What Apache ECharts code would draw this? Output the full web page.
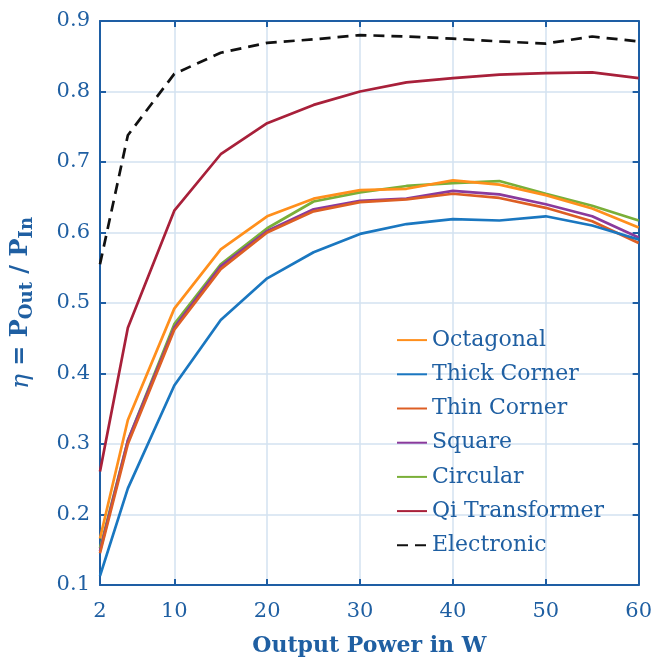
<!DOCTYPE html>
<html>
<head>
<meta charset="utf-8">
<script src="https://cdn.jsdelivr.net/npm/echarts@6/dist/echarts.min.js"></script>
<style>
  html, body { margin: 0; padding: 0; background: #ffffff; }
  #chart { width: 655px; height: 662px; }
</style>
</head>
<body>
<div id="chart"></div>
<script>
// Output power (W) at each measurement point
const power = [2, 5, 10, 15, 20, 25, 30, 35, 40, 45, 50, 55, 60];

// Efficiency of each coil design
const octagonal   = [0.166, 0.334, 0.492, 0.576, 0.623, 0.648, 0.660, 0.662, 0.674, 0.668, 0.653, 0.634, 0.607];
const thickCorner = [0.113, 0.237, 0.383, 0.476, 0.535, 0.572, 0.598, 0.612, 0.619, 0.617, 0.623, 0.610, 0.590];
const thinCorner  = [0.145, 0.300, 0.462, 0.548, 0.600, 0.630, 0.643, 0.647, 0.655, 0.649, 0.635, 0.616, 0.585];
const square      = [0.148, 0.305, 0.465, 0.552, 0.602, 0.633, 0.645, 0.648, 0.659, 0.654, 0.640, 0.623, 0.593];
const circular    = [0.152, 0.305, 0.470, 0.555, 0.606, 0.644, 0.657, 0.666, 0.670, 0.673, 0.655, 0.638, 0.617];
const qiTransformer = [0.261, 0.465, 0.631, 0.711, 0.755, 0.781, 0.800, 0.813, 0.819, 0.824, 0.826, 0.827, 0.819];
const electronic  = [0.555, 0.738, 0.825, 0.855, 0.869, 0.874, 0.880, 0.878, 0.875, 0.871, 0.868, 0.878, 0.871];

// Axis tick labels
const xTicks = [2, 10, 20, 30, 40, 50, 60];
const yTicks = [0.1, 0.2, 0.3, 0.4, 0.5, 0.6, 0.7, 0.8, 0.9];

const seriesDefs = [
  { name: 'Octagonal',      data: octagonal,     color: '#FF8F1C' },
  { name: 'Thick Corner',   data: thickCorner,   color: '#1A77C0' },
  { name: 'Thin Corner',    data: thinCorner,    color: '#DD5E24' },
  { name: 'Square',         data: square,        color: '#8A3A9C' },
  { name: 'Circular',       data: circular,      color: '#7AAF38' },
  { name: 'Qi Transformer', data: qiTransformer, color: '#A8203A' },
  { name: 'Electronic',     data: electronic,    color: '#111111', dashed: true }
];

const blue = '#1E5EA4';
const textBlue = '#1F5FA2';
const gridColor = '#D3E2F1';
const font = 'DejaVu Serif';

const chart = echarts.init(document.getElementById('chart'), null, { renderer: 'canvas' });

const series = seriesDefs.map(function (s) {
  return {
    name: s.name,
    type: 'line',
    data: power.map(function (p, i) { return [p, s.data[i]]; }),
    showSymbol: false,
    symbol: 'none',
    smooth: false,
    z: s.dashed ? 3 : 2,
    itemStyle: { color: s.color },
    lineStyle: {
      color: s.color,
      width: 2.7,
      type: s.dashed ? [11, 7] : 'solid'
    }
  };
});

// draw order: later lines lie on top
series.reverse();

chart.setOption({
  animation: false,
  backgroundColor: '#ffffff',
  grid: { left: 100, right: 16, top: 21, bottom: 75, containLabel: false },
  legend: {
    orient: 'vertical',
    left: 396,
    top: 328,
    itemWidth: 30,
    itemHeight: 14,
    itemGap: 10,
    padding: 0,
    itemStyle: { opacity: 0 },
    data: seriesDefs.map(function (s) { return s.name; }),
    textStyle: { fontFamily: font, fontSize: 22, color: textBlue, lineHeight: 24.2 }
  },
  xAxis: [
    {
      type: 'value',
      min: 2,
      max: 60,
      name: 'Output Power in W',
      nameLocation: 'middle',
      nameGap: 50,
      nameTextStyle: { fontFamily: font, fontSize: 22, fontWeight: 'bold', color: textBlue },
      axisLine: { show: true, onZero: false, lineStyle: { color: blue, width: 2 } },
      axisTick: { show: true, inside: true, length: 6, customValues: xTicks, lineStyle: { color: blue, width: 2 } },
      axisLabel: { customValues: xTicks, margin: 16, fontFamily: font, fontSize: 21, color: textBlue },
      splitLine: { show: true, lineStyle: { color: gridColor, width: 1.5 } }
    },
    {
      type: 'value',
      position: 'top',
      min: 2,
      max: 60,
      axisLine: { show: true, onZero: false, lineStyle: { color: blue, width: 2 } },
      axisTick: { show: true, inside: true, length: 6, customValues: xTicks, lineStyle: { color: blue, width: 2 } },
      axisLabel: { show: false },
      splitLine: { show: false }
    }
  ],
  yAxis: [
    {
      type: 'value',
      min: 0.1,
      max: 0.9,
      interval: 0.1,
      name: '{i|η}{b| = P}{s|Out}{b| / P}{s|In}',
      nameLocation: 'middle',
      nameRotate: 90,
      nameGap: 64,
      nameTextStyle: {
        color: textBlue,
        rich: {
          i: { fontFamily: font, fontStyle: 'italic', fontSize: 25, color: textBlue, lineHeight: 30 },
          b: { fontFamily: font, fontWeight: 'bold', fontSize: 24, color: textBlue, lineHeight: 30 },
          s: { fontFamily: font, fontWeight: 'bold', fontSize: 18, color: textBlue, lineHeight: 15, verticalAlign: 'bottom' }
        }
      },
      axisLine: { show: true, onZero: false, lineStyle: { color: blue, width: 2 } },
      axisTick: { show: true, inside: true, length: 6, lineStyle: { color: blue, width: 2 } },
      axisLabel: {
        margin: 10,
        fontFamily: font,
        fontSize: 21,
        color: textBlue,
        formatter: function (v) { return v.toFixed(1); }
      },
      splitLine: { show: true, lineStyle: { color: gridColor, width: 1.5 } }
    },
    {
      type: 'value',
      position: 'right',
      min: 0.1,
      max: 0.9,
      interval: 0.1,
      axisLine: { show: true, onZero: false, lineStyle: { color: blue, width: 2 } },
      axisTick: { show: true, inside: true, length: 6, lineStyle: { color: blue, width: 2 } },
      axisLabel: { show: false },
      splitLine: { show: false }
    }
  ],
  series: series
});
</script>
</body>
</html>
